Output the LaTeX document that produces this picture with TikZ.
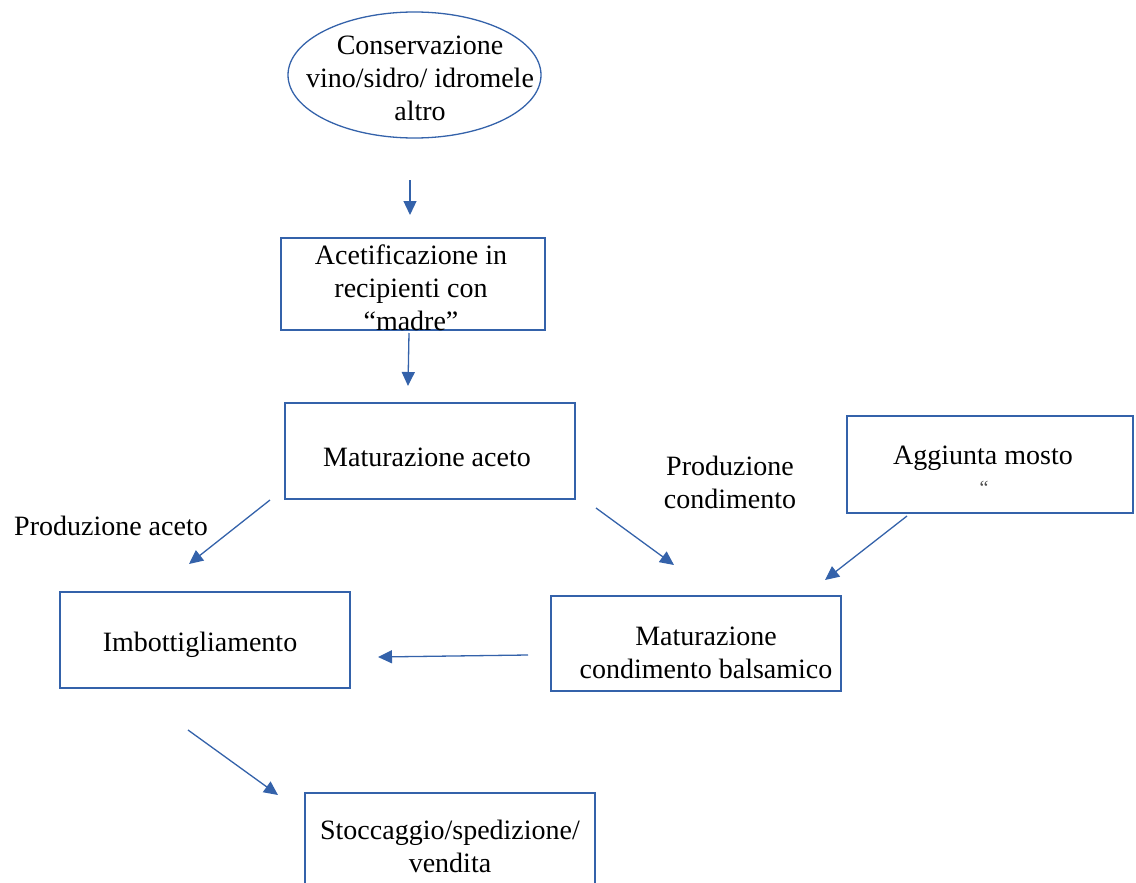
\documentclass[tikz,border=0pt]{standalone}
\usepackage{fontspec}
\setmainfont{Liberation Serif}
\usetikzlibrary{arrows.meta,shapes.geometric}
\definecolor{lineblue}{RGB}{52,98,170}
\tikzset{
  boxshape/.style={draw=lineblue, line width=1.3pt, rectangle, inner sep=0pt},
  ovalshape/.style={draw=lineblue, line width=1.3pt, ellipse, inner sep=0pt},
  txt/.style={align=center, inner sep=0pt, font=\fontsize{28}{33}\selectfont},
  flow/.style={draw=lineblue, line width=1.3pt, -{Triangle[length=14pt,width=13pt]}}
}
\begin{document}
\begin{tikzpicture}[x=1pt,y=-1pt]
\useasboundingbox (0,0) rectangle (1136,883);
% shapes
\node[ovalshape, minimum width=253pt, minimum height=126pt] (cons) at (414.5,75) {};
\node[txt] (constxt) at (420,78) {Conservazione\\vino/sidro/ idromele\\altro};
\node[boxshape, minimum width=264pt, minimum height=92pt] (acet) at (413,284) {};
\node[txt] (acettxt) at (411,288) {Acetificazione in\\recipienti con\\“madre”};
\node[boxshape, minimum width=290pt, minimum height=96pt] (mat) at (430,451) {};
\node[txt] (mattxt) at (427,457) {Maturazione aceto};
\node[boxshape, minimum width=286pt, minimum height=97pt] (agg) at (990,464.5) {};
\node[txt] (aggtxt) at (983,458) {Aggiunta mosto};
\node[inner sep=0pt, font=\fontsize{20}{20}\selectfont, text=black!70] (aggmark) at (984,488) {“};
\node[boxshape, minimum width=290pt, minimum height=96pt] (imb) at (205,640) {};
\node[txt] (imbtxt) at (200,645) {Imbottigliamento};
\node[boxshape, minimum width=290pt, minimum height=95pt] (cond) at (696,643.5) {};
\node[txt] (condtxt) at (706,653) {Maturazione\\condimento balsamico};
\draw[draw=lineblue, line width=1.3pt] (305,884) -- (305,793) -- (595,793) -- (595,884);
\node[txt] (stotxt) at (450,846) {Stoccaggio/spedizione/\\vendita};
% labels
\node[txt, anchor=west] (lblaceto) at (14,526) {Produzione aceto};
\node[txt] (lblcond) at (730,482) {Produzione\\condimento};
% arrow end points
\coordinate (a1s) at (410,180); \coordinate (a1e) at (410,215);
\coordinate (a2s) at (409,333); \coordinate (a2e) at (408,386);
\coordinate (a3s) at (270,500); \coordinate (a3e) at (189,564);
\coordinate (a4s) at (596,508); \coordinate (a4e) at (674,565);
\coordinate (a5s) at (907,516); \coordinate (a5e) at (825,580);
\coordinate (a6s) at (528,655); \coordinate (a6e) at (378,657);
\coordinate (a7s) at (188,730); \coordinate (a7e) at (278,795);
\draw[flow] (a1s) -- (a1e);
\draw[flow] (a2s) -- (a2e);
\draw[flow] (a3s) -- (a3e);
\draw[flow] (a4s) -- (a4e);
\draw[flow] (a5s) -- (a5e);
\draw[flow] (a6s) -- (a6e);
\draw[flow] (a7s) -- (a7e);
\end{tikzpicture}
\end{document}
